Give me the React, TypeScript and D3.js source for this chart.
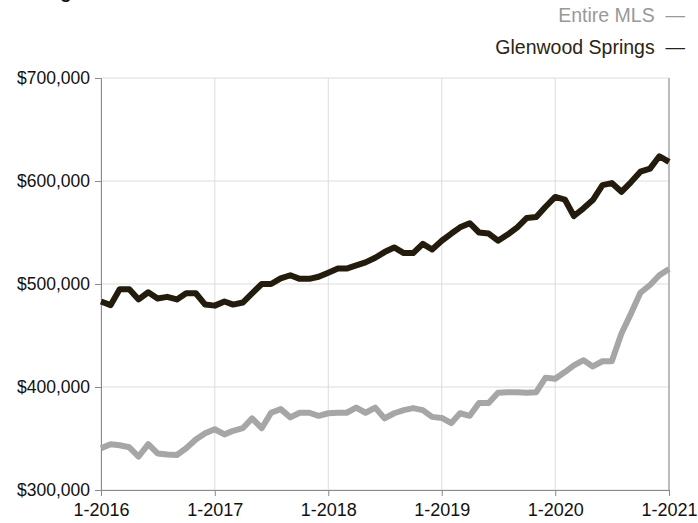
import * as d3 from 'd3';
import { useEffect, useRef } from 'react';

// monthly values, 1-2016 .. 1-2021
const glenwood = [
  483000, 479500, 495000, 495000, 485000, 492000, 486000, 487500, 485000, 491000, 491000, 480000,
  479000, 483000, 480000, 482000, 491000, 500000, 500000, 505500, 508500, 505000, 505000, 507000,
  511000, 515000, 515000, 518000, 521000, 525500, 531000, 535500, 530000, 530000, 539000, 533500,
  542000, 549000, 555000, 559000, 550000, 549000, 542000, 548000, 555000, 564000, 565000, 575000,
  584500, 582000, 566000, 573500, 581500, 596000, 598000, 589500, 599000, 609000, 612000, 624000,
  618500,
];
const entireMls = [
  340500, 344500, 343500, 341500, 332500, 344500, 335500, 334500, 334000, 340500, 349000, 355000,
  359000, 354000, 357500, 360000, 369500, 360000, 375000, 378500, 370500, 375000, 375000, 372000,
  374500, 375000, 375000, 380000, 375000, 380000, 369500, 374500, 377500, 379500, 377500, 371000,
  370000, 365000, 374500, 372000, 384500, 384500, 394500, 395000, 395000, 394500, 395000, 409000,
  408000, 414500, 421000, 426000, 420000, 425000, 425000, 452000, 471500, 491500, 499000, 508500,
  514500,
];
const yTicks = [300000, 400000, 500000, 600000, 700000];
const xTickLabels = ['1-2016', '1-2017', '1-2018', '1-2019', '1-2020', '1-2021'];
const legendItems = [
  { label: 'Entire MLS', color: '#999999' },
  { label: 'Glenwood Springs', color: '#2b2415' },
];

export default function App() {
  const ref = useRef<SVGSVGElement>(null);

  useEffect(() => {
    if (!ref.current) return;
    const width = 698;
    const height = 523;
    const margin = { top: 78, right: 29, bottom: 33, left: 101 };
    const font = 'Liberation Sans, Arial, sans-serif';

    const svg = d3.select(ref.current);
    svg.selectAll('*').remove();

    const start = new Date(2016, 0, 1);
    const dates = glenwood.map((_, i) => d3.timeMonth.offset(start, i));

    const x = d3.scaleTime()
      .domain([start, new Date(2021, 0, 1)])
      .range([margin.left, width - margin.right]);
    const y = d3.scaleLinear()
      .domain([300000, 700000])
      .range([height - margin.bottom, margin.top]);

    // title, mostly above the visible area (only a descender shows)
    svg.append('text')
      .attr('x', 8)
      .attr('y', -2)
      .attr('font-family', font)
      .attr('font-size', 19)
      .attr('font-weight', 'bold')
      .attr('fill', '#111')
      .text('Average Sales Price');

    // grid
    const grid = svg.append('g');
    grid.selectAll('.hg')
      .data(yTicks)
      .join('line')
      .attr('x1', margin.left)
      .attr('x2', width - margin.right)
      .attr('y1', d => y(d))
      .attr('y2', d => y(d))
      .attr('stroke', '#dcdcdc')
      .attr('stroke-width', 1);
    const yearDates = x.ticks(d3.timeYear.every(1));
    grid.selectAll('.vg')
      .data(yearDates)
      .join('line')
      .attr('x1', d => x(d))
      .attr('x2', d => x(d))
      .attr('y1', margin.top)
      .attr('y2', height - margin.bottom)
      .attr('stroke', '#dcdcdc')
      .attr('stroke-width', 1);

    // axes
    const yAxis = svg.append('g')
      .attr('transform', `translate(${margin.left},0)`)
      .call(d3.axisLeft(y).tickValues(yTicks).tickSize(6).tickPadding(5)
        .tickFormat(d => '$' + d3.format(',')(d as number)));
    yAxis.select('.domain').attr('stroke', '#8a8a8a');
    yAxis.selectAll('.tick line').attr('stroke', '#8a8a8a');
    yAxis.selectAll('text')
      .attr('font-family', font)
      .attr('font-size', 17.5)
      .attr('fill', '#111');

    const xAxis = svg.append('g')
      .attr('transform', `translate(0,${height - margin.bottom})`)
      .call(d3.axisBottom(x).tickValues(yearDates).tickSize(6).tickPadding(7)
        .tickFormat((_, i) => xTickLabels[i]));
    xAxis.select('.domain').attr('stroke', '#8a8a8a');
    xAxis.selectAll('.tick line').attr('stroke', '#8a8a8a');
    xAxis.selectAll('text')
      .attr('font-family', font)
      .attr('font-size', 18)
      .attr('fill', '#111');

    // right border
    svg.append('line')
      .attr('x1', width - margin.right)
      .attr('x2', width - margin.right)
      .attr('y1', margin.top)
      .attr('y2', height - margin.bottom)
      .attr('stroke', '#8a8a8a');

    const line = d3.line<number>()
      .x((_, i) => x(dates[i]))
      .y(d => y(d))
      .curve(d3.curveLinear);

    svg.append('path')
      .datum(entireMls)
      .attr('fill', 'none')
      .attr('stroke', '#a6a6a6')
      .attr('stroke-width', 6)
      .attr('stroke-linejoin', 'round')
      .attr('d', line);

    svg.append('path')
      .datum(glenwood)
      .attr('fill', 'none')
      .attr('stroke', '#231b0b')
      .attr('stroke-width', 6)
      .attr('stroke-linejoin', 'round')
      .attr('d', line);

    // legend
    const legend = svg.append('g');
    legendItems.forEach((item, i) => {
      legend.append('text')
        .attr('x', 685)
        .attr('y', 22 + i * 32)
        .attr('text-anchor', 'end')
        .attr('font-family', font)
        .attr('font-size', 19.5)
        .attr('fill', item.color)
        .attr('xml:space', 'preserve')
        .text(item.label + '  \u2014');
    });
  }, []);

  return (
    <svg
      ref={ref}
      width={698}
      height={523}
      style={{ position: 'absolute', left: 0, top: 0, background: '#fff' }}
    />
  );
}
